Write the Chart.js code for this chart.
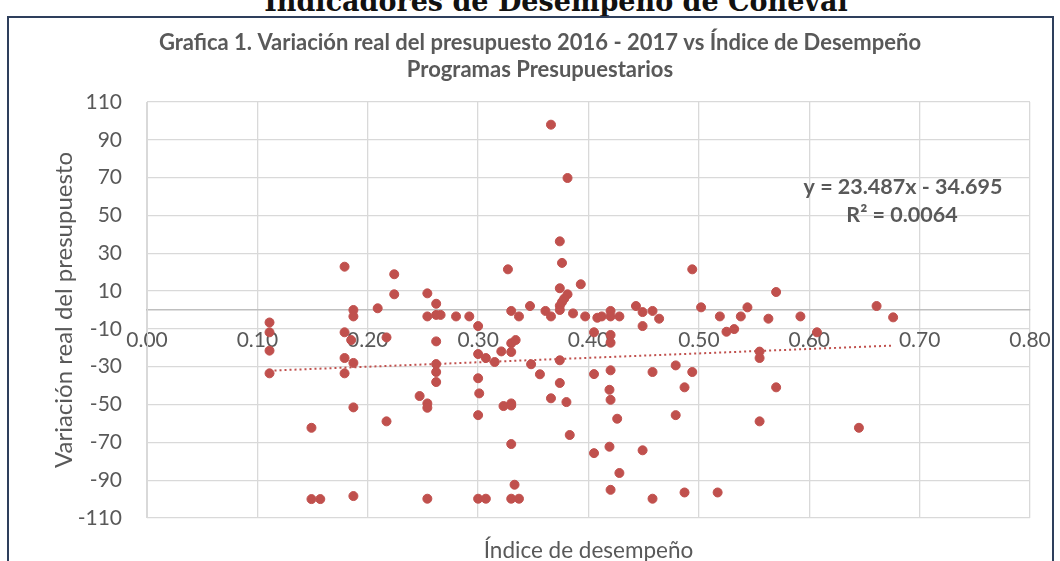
<!DOCTYPE html>
<html>
<head>
<meta charset="utf-8">
<script src="https://cdn.jsdelivr.net/npm/chart.js@4"></script>
<style>
  html, body { margin: 0; padding: 0; background: #fff; overflow: hidden; }
  body { width: 1060px; height: 561px; position: relative; }
  #heading { position: absolute; left: 0; top: -12px; width: 1112px; text-align: center;
    font: bold 27px/27px "DejaVu Serif", serif; color: #111; white-space: nowrap; }
  #frame { position: absolute; left: 7px; top: 16px; width: 1043px; height: 560px;
    border: 2px solid #2E3F5C; border-bottom: none; pointer-events: none; }
  #wrap { position: absolute; left: 10px; top: 0; width: 1060px; height: 561px; }
</style>
</head>
<body>
<div id="heading">Indicadores de Desempeño de Coneval</div>
<div id="wrap"><canvas id="chart" width="1060" height="561"></canvas></div>
<div id="frame"></div>
<script>
// Índice de desempeño (x) y variación real del presupuesto (y), un programa por posición
const xIndex = [
  0.179, 0.187, 0.187, 0.111, 0.111, 0.179, 0.185, 0.111, 0.179, 0.187,
  0.111, 0.179, 0.187, 0.149, 0.149, 0.157, 0.187, 0.366, 0.381, 0.374,
  0.376, 0.327, 0.224, 0.224, 0.254, 0.374, 0.393, 0.381, 0.378, 0.376,
  0.374, 0.374, 0.262, 0.209, 0.347, 0.330, 0.361, 0.337, 0.366, 0.386,
  0.397, 0.254, 0.262, 0.266, 0.280, 0.292, 0.300, 0.217, 0.262, 0.330,
  0.334, 0.321, 0.330, 0.300, 0.307, 0.315, 0.262, 0.262, 0.348, 0.374,
  0.356, 0.262, 0.300, 0.301, 0.374, 0.366, 0.380, 0.247, 0.254, 0.254,
  0.323, 0.330, 0.330, 0.300, 0.217, 0.383, 0.330, 0.333, 0.254, 0.300,
  0.307, 0.330, 0.337, 0.494, 0.570, 0.443, 0.502, 0.544, 0.449, 0.458,
  0.420, 0.408, 0.412, 0.420, 0.428, 0.464, 0.519, 0.538, 0.563, 0.592,
  0.449, 0.525, 0.532, 0.405, 0.420, 0.420, 0.405, 0.420, 0.458, 0.479,
  0.494, 0.487, 0.419, 0.420, 0.426, 0.479, 0.555, 0.555, 0.570, 0.555,
  0.405, 0.419, 0.449, 0.428, 0.420, 0.458, 0.487, 0.517, 0.661, 0.676,
  0.607, 0.645
];
const yVariation = [
  22.9, 0.0, -3.4, -6.6, -11.8, -11.8, -15.9, -21.5, -25.4, -28.0,
  -33.5, -33.5, -51.5, -62.3, -100.0, -100.0, -98.4, 98.0, 69.8, 36.3,
  24.9, 21.5, 18.9, 8.3, 8.8, 11.5, 13.6, 8.3, 6.0, 4.2,
  2.2, 0.0, 3.3, 0.9, 2.1, -0.5, -0.5, -3.4, -3.4, -1.8,
  -3.4, -3.4, -2.6, -2.6, -3.4, -3.4, -8.5, -14.5, -16.6, -17.6,
  -15.9, -21.9, -22.2, -23.3, -25.4, -27.5, -28.6, -32.8, -28.7, -26.6,
  -34.0, -38.1, -36.1, -44.1, -38.6, -46.7, -48.7, -45.5, -49.4, -51.7,
  -50.8, -49.4, -50.5, -55.6, -58.9, -66.1, -70.9, -92.4, -99.8, -99.8,
  -99.8, -99.8, -99.8, 21.5, 9.5, 2.1, 1.4, 1.4, -1.1, -0.5,
  -0.5, -4.1, -3.4, -3.4, -3.4, -4.6, -3.4, -3.4, -4.6, -3.4,
  -8.5, -11.5, -10.1, -11.8, -13.2, -17.3, -33.9, -31.9, -32.8, -29.3,
  -32.8, -40.9, -42.2, -47.5, -57.5, -55.6, -22.0, -25.4, -40.9, -58.9,
  -75.7, -72.3, -74.2, -86.2, -95.1, -99.8, -96.5, -96.5, 2.1, -3.9,
  -11.8, -62.3
];

// Línea de tendencia lineal (ecuación mostrada en la gráfica)
const trendSlope = 23.487;
const trendIntercept = -34.695;
const trendRange = [0.111, 0.676];

const titleLines = [
  'Grafica 1. Variación real del presupuesto 2016 - 2017 vs Índice de Desempeño',
  'Programas Presupuestarios'
];
const equationLines = ['y = 23.487x - 34.695', 'R² = 0.0064'];
const xAxisTitle = 'Índice de desempeño';
const yAxisTitle = 'Variación real del presupuesto';

const points = xIndex.map((x, i) => ({ x: x, y: yVariation[i] }));
const trendPoints = trendRange.map(x => ({ x: x, y: trendSlope * x + trendIntercept }));

const grey = '#595959';
const red = '#C0504D';

// textos que Excel coloca dentro del área: ecuación y título del eje x
const extraText = {
  id: 'extraText',
  afterDraw(chart) {
    const { ctx, chartArea } = chart;
    ctx.save();
    ctx.fillStyle = grey;
    ctx.textAlign = 'center';
    ctx.textBaseline = 'middle';
    ctx.font = 'bold 21.5px Lato';
    ctx.fillText(equationLines[0], 893, 187);
    ctx.fillText(equationLines[1], 892, 215);
    ctx.font = '22.5px Lato';
    ctx.fillText(xAxisTitle, (chartArea.left + chartArea.right) / 2, 551);
    ctx.restore();
  }
};

new Chart(document.getElementById('chart'), {
  type: 'scatter',
  data: {
    datasets: [
      {
        label: 'Programas',
        data: points,
        backgroundColor: red,
        borderColor: red,
        pointRadius: 4.5,
        pointHoverRadius: 4.5,
        order: 1
      },
      {
        type: 'line',
        label: 'Tendencia',
        data: trendPoints,
        borderColor: red,
        borderWidth: 2,
        borderDash: [2, 3],
        pointRadius: 0,
        fill: false,
        order: 2
      }
    ]
  },
  options: {
    responsive: false,
    animation: false,
    layout: { padding: { left: 40, right: 40, top: 0, bottom: 43 } },
    plugins: {
      legend: { display: false },
      tooltip: { enabled: false },
      title: {
        display: true,
        text: titleLines,
        color: grey,
        font: { family: 'Lato', size: 22, weight: 'bold', lineHeight: 1.227 },
        padding: { top: 29, bottom: 19 }
      }
    },
    scales: {
      x: {
        type: 'linear',
        position: { y: 0 },
        min: 0,
        max: 0.8,
        ticks: {
          stepSize: 0.1,
          autoSkip: false,
          maxRotation: 0,
          color: grey,
          padding: 18,
          font: { family: 'Lato', size: 21 },
          callback: v => v.toFixed(2)
        },
        grid: { color: '#D9D9D9', lineWidth: 1.3, drawTicks: false },
        border: { color: '#BFBFBF', width: 1.5 },
        afterFit(s) { s.paddingLeft = 0; s.paddingRight = 0; }
      },
      y: {
        min: -110,
        max: 110,
        ticks: {
          stepSize: 20,
          color: grey,
          padding: 25,
          font: { family: 'Lato', size: 21 }
        },
        grid: { color: '#D9D9D9', lineWidth: 1.3, drawTicks: false },
        border: { color: '#D9D9D9' },
        title: {
          display: true,
          text: yAxisTitle,
          color: grey,
          padding: 0,
          font: { family: 'Lato', size: 24 }
        },
        afterFit(s) { s.width = 97; s.paddingTop = 0; s.paddingBottom = 0; }
      }
    }
  },
  plugins: [extraText]
});
</script>
</body>
</html>
